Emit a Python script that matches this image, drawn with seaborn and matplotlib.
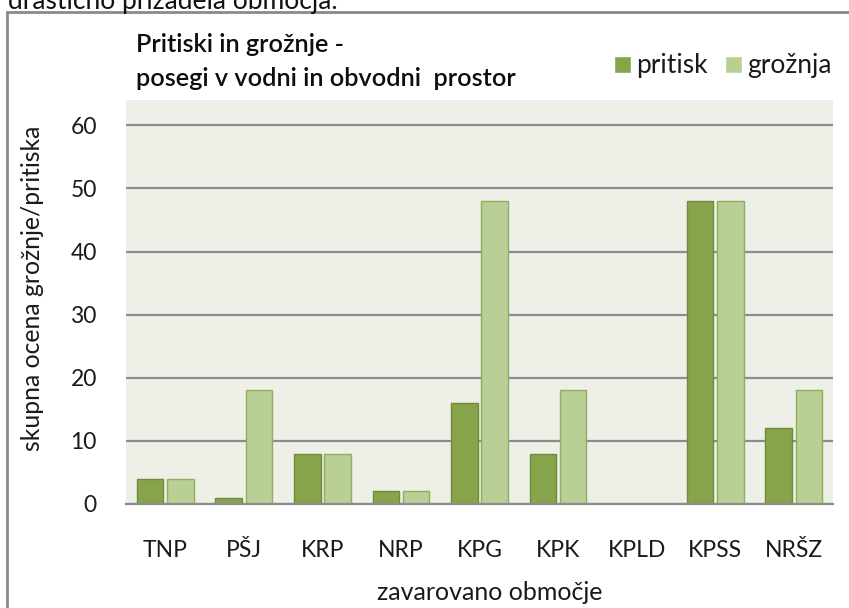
"""
Pritiski in grožnje - posegi v vodni in obvodni prostor (grouped bar chart).
"""

import numpy as np
import pandas as pd
import matplotlib.pyplot as plt
import seaborn as sns
from matplotlib.patches import Rectangle

# data
obmocja = ["TNP", "PŠJ", "KRP", "NRP", "KPG", "KPK", "KPLD", "KPSS", "NRŠZ"]
pritisk = [4, 1, 8, 2, 16, 8, 0, 48, 12]
groznja = [4, 18, 8, 2, 48, 18, 0, 48, 18]
serije = ["pritisk", "grožnja"]
y_ticks = [0, 10, 20, 30, 40, 50, 60]

df = pd.DataFrame({
    "obmocje": obmocja * 2,
    "ocena": pritisk + groznja,
    "tip": [serije[0]] * len(obmocja) + [serije[1]] * len(obmocja),
})

dark_green = "#87a44b"
light_green = "#bacf95"
edge_colors = ["#6f8a3a", "#8fae5c"]
text_color = "#1a1a1a"

sns.set_theme(style="white")
plt.rcParams["font.family"] = ["Lato", "DejaVu Sans"]

W, H = 849, 608
fig = plt.figure(figsize=(W / 100, H / 100), dpi=100)
ax = fig.add_axes([126 / W, 1 - 504 / H, (833 - 126) / W, (504 - 100) / H])

# saturation=1 so seaborn keeps the Excel greens as they are
sns.barplot(data=df, x="obmocje", y="ocena", hue="tip", hue_order=serije,
            palette=[dark_green, light_green], saturation=1, width=0.77, gap=0.12,
            linewidth=1, ax=ax)

for cont, ec in zip(ax.containers, edge_colors):
    for bar in cont:
        bar.set_edgecolor(ec)

ax.set_facecolor("#eef0e8")
ax.set_ylim(0, 64)
ax.set_yticks(y_ticks)
ax.yaxis.grid(True, color="#8c8c8c", linewidth=1.6)
ax.set_axisbelow(True)
for side in ["top", "right", "left"]:
    ax.spines[side].set_visible(False)
ax.spines["bottom"].set_color("#8c8c8c")
ax.spines["bottom"].set_linewidth(1.6)
ax.tick_params(axis="y", length=0, pad=21, labelsize=16.5, labelcolor=text_color)
ax.tick_params(axis="x", length=0, pad=26, labelsize=16.5, labelcolor=text_color)
ax.set_xlabel("")
ax.set_ylabel("")

fig.text(490 / W, 1 - 592 / H, "zavarovano območje", ha="center", va="center",
         fontsize=18, color=text_color)
fig.text(33 / W, 1 - 288 / H, "skupna ocena grožnje/pritiska", ha="center",
         va="center", rotation=90, fontsize=17.8, color=text_color)

fig.text(136 / W, 1 - 45 / H, "Pritiski in grožnje -", ha="left", va="center",
         fontsize=18.2, fontweight="semibold", color="#0d0d0d")
fig.text(136 / W, 1 - 78 / H, "posegi v vodni in obvodni  prostor", ha="left",
         va="center", fontsize=18.2, fontweight="semibold", color="#0d0d0d")

handles, labels = ax.get_legend_handles_labels()
ax.legend(handles, labels, loc="center left", bbox_to_anchor=(614 / W, 1 - 66 / H),
          bbox_transform=fig.transFigure, ncol=2, frameon=False, fontsize=19,
          handlelength=0.64, handleheight=0.64, handletextpad=0.2,
          columnspacing=0.65, borderaxespad=0, borderpad=0, labelcolor=text_color)

# outer frame of the chart object (runs past the right and bottom edges)
fig.patches.append(Rectangle((7 / W, -0.1), 1.2, 1.1 - 12 / H, transform=fig.transFigure,
                             fill=False, edgecolor="#8a8a8a", linewidth=2))

# tail of the surrounding document text, clipped at the top like in the source
fig.text(8 / W, 1 - 9 / H, "drastično prizadela območja.", ha="left", va="baseline",
         fontsize=19, color="#111111")

fig.savefig("out.png", dpi=100)
